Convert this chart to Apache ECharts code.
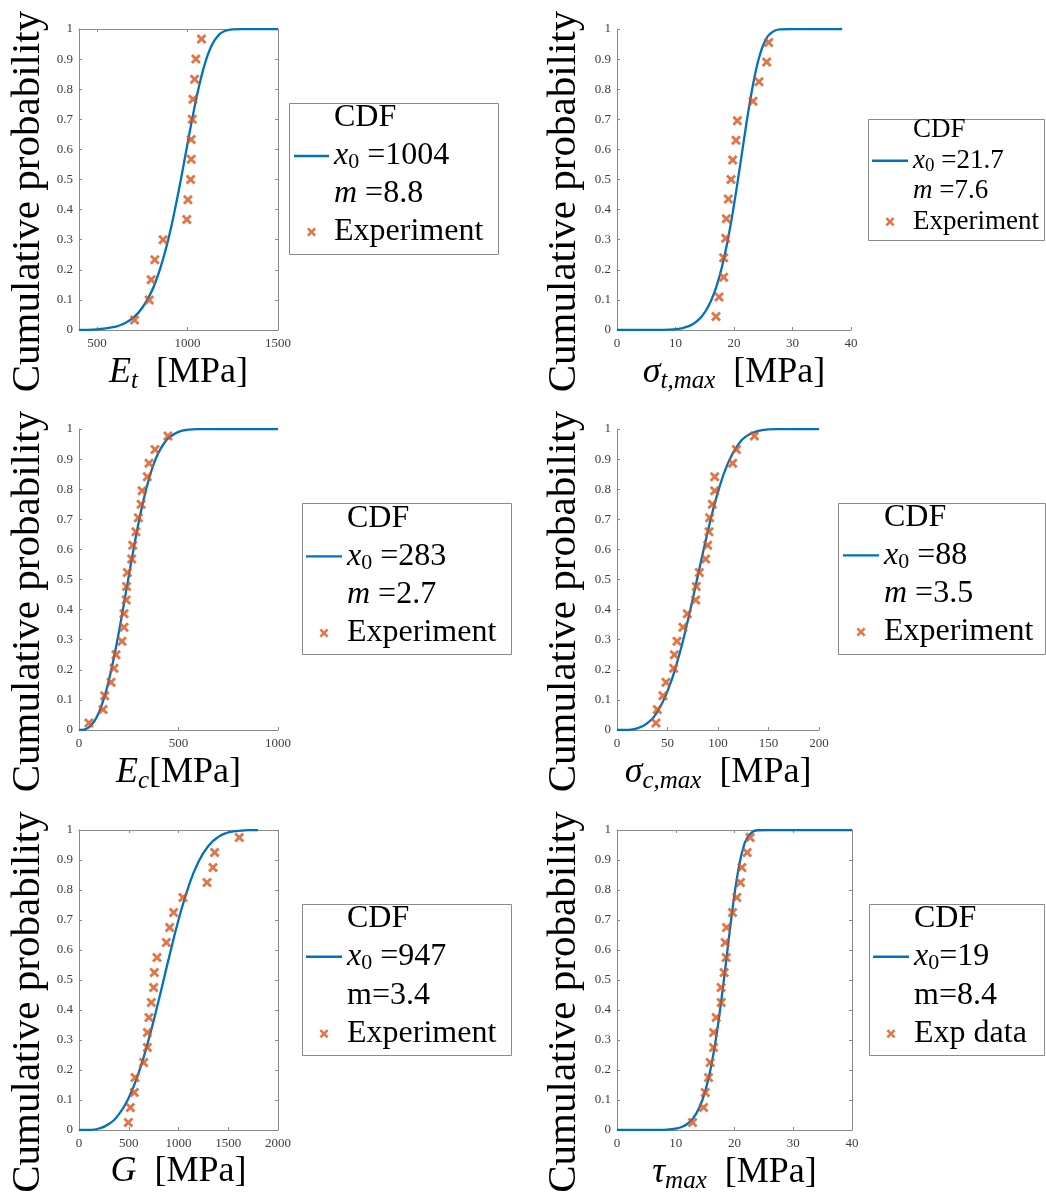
<!DOCTYPE html>
<html>
<head>
<meta charset="utf-8">
<script src="https://cdn.jsdelivr.net/npm/echarts@6/dist/echarts.min.js"></script>
<style>
  html, body { margin: 0; padding: 0; background: #fff; }
  #chart { width: 1046px; height: 1195px; }
</style>
</head>
<body>
<div id="chart"></div>
<script>
// ---------- data: measured values (exp) and fitted Weibull CDF curves (cdf) ----------
// Tensile modulus E_t [MPa]  (x0 = 1004, m = 8.8)
const etExpX = [707, 788, 799, 819, 865, 996, 1002, 1017, 1020, 1020, 1026, 1030, 1039, 1046, 1077];
const etExpY = [0.033, 0.1, 0.167, 0.233, 0.3, 0.367, 0.433, 0.5, 0.567, 0.633, 0.7, 0.767, 0.833, 0.9, 0.967];
const etCdfX = [400, 500, 600, 650, 700, 750, 800, 825, 850, 875, 900, 925, 950, 975, 1000, 1025, 1050, 1075, 1100, 1125, 1150, 1175, 1200, 1250, 1300, 1500];
const etCdfY = [0.0003, 0.0022, 0.0107, 0.0216, 0.041, 0.0739, 0.1267, 0.1627, 0.2063, 0.2578, 0.3175, 0.385, 0.4592, 0.5381, 0.6192, 0.6987, 0.773, 0.8387, 0.8928, 0.9343, 0.9632, 0.9815, 0.9918, 0.999, 0.9999, 1];

// Tensile strength sigma_t,max [MPa]  (x0 = 21.7, m = 7.6)
const stExpX = [16.92, 17.44, 18.23, 18.23, 18.58, 18.69, 19.03, 19.49, 19.77, 20.34, 20.57, 23.25, 24.27, 25.58, 25.93];
const stExpY = [0.045, 0.11, 0.175, 0.24, 0.305, 0.37, 0.435, 0.5, 0.565, 0.63, 0.695, 0.76, 0.825, 0.89, 0.955];
const stCdfX = [0, 6, 8, 10, 11, 12, 13, 14, 15, 16, 17, 18, 19, 20, 21, 22, 22.5, 23, 23.5, 24, 24.5, 25, 25.5, 26, 27, 28, 30, 38.5];
const stCdfY = [0, 0.0001, 0.0005, 0.0028, 0.0057, 0.011, 0.0202, 0.0351, 0.0587, 0.094, 0.1448, 0.2146, 0.3053, 0.416, 0.5413, 0.6704, 0.732, 0.7891, 0.84, 0.8837, 0.9192, 0.9468, 0.9669, 0.9808, 0.9948, 0.999, 1, 1];

// Compressive modulus E_c [MPa]  (x0 = 283, m = 2.7)
const ecExpX = [50, 121, 129, 161, 176, 186, 216, 226, 226, 237, 239, 243, 265, 270, 286, 298, 312, 317, 343, 352, 382, 447];
const ecExpY = [0.023, 0.068, 0.114, 0.159, 0.205, 0.25, 0.295, 0.341, 0.386, 0.432, 0.477, 0.523, 0.568, 0.614, 0.659, 0.705, 0.75, 0.795, 0.841, 0.886, 0.932, 0.977];
const ecCdfX = [0, 25, 50, 75, 100, 125, 150, 175, 200, 225, 250, 275, 300, 325, 350, 375, 400, 425, 450, 500, 550, 600, 700, 1000];
const ecCdfY = [0, 0.0014, 0.0092, 0.0273, 0.0585, 0.1042, 0.1649, 0.239, 0.3241, 0.4163, 0.5111, 0.6038, 0.6899, 0.7662, 0.8305, 0.8822, 0.9216, 0.9501, 0.9698, 0.9904, 0.9976, 0.9995, 1, 1];

// Compressive strength sigma_c,max [MPa]  (x0 = 88, m = 3.5)
const scExpX = [38.6, 39.9, 45.5, 48.5, 56.1, 56.8, 59.4, 65.3, 69.6, 77.9, 78.5, 81.5, 87.8, 89.8, 91.1, 91.7, 94.4, 96.7, 96.7, 114.5, 118.2, 136.0];
const scExpY = [0.023, 0.068, 0.114, 0.159, 0.205, 0.25, 0.295, 0.341, 0.386, 0.432, 0.477, 0.523, 0.568, 0.614, 0.659, 0.705, 0.75, 0.795, 0.841, 0.886, 0.932, 0.977];
const scCdfX = [0, 10, 20, 30, 40, 50, 60, 70, 80, 90, 100, 110, 120, 130, 140, 150, 160, 180, 200];
const scCdfY = [0, 0.0005, 0.0056, 0.0229, 0.0614, 0.1291, 0.2303, 0.3618, 0.5115, 0.6611, 0.7909, 0.8874, 0.9483, 0.9801, 0.9938, 0.9985, 0.9997, 1, 1];

// Shear modulus G [MPa]  (x0 = 947, m = 3.4)
const gExpX = [496, 516, 556, 563, 650, 687, 687, 703, 727, 750, 757, 784, 878, 911, 951, 1045, 1286, 1347, 1363, 1611];
const gExpY = [0.025, 0.075, 0.125, 0.175, 0.225, 0.275, 0.325, 0.375, 0.425, 0.475, 0.525, 0.575, 0.625, 0.675, 0.725, 0.775, 0.825, 0.875, 0.925, 0.975];
const gCdfX = [0, 100, 200, 300, 400, 500, 600, 700, 800, 900, 1000, 1100, 1200, 1300, 1400, 1500, 1600, 1700, 1800];
const gCdfY = [0, 0.0005, 0.005, 0.0199, 0.052, 0.1077, 0.191, 0.3009, 0.4308, 0.5687, 0.7, 0.8107, 0.8932, 0.9469, 0.9771, 0.9916, 0.9974, 0.9993, 0.9999];

// Shear strength tau_max [MPa]  (x0 = 19, m = 8.4)
const tauExpX = [12.86, 14.73, 15.01, 15.58, 15.86, 16.43, 16.43, 16.88, 17.73, 17.73, 18.24, 18.58, 18.41, 18.64, 19.66, 20.40, 21.02, 21.25, 22.15, 22.66];
const tauExpY = [0.025, 0.075, 0.125, 0.175, 0.225, 0.275, 0.325, 0.375, 0.425, 0.475, 0.525, 0.575, 0.625, 0.675, 0.725, 0.775, 0.825, 0.875, 0.925, 0.975];
const tauCdfX = [0, 6, 8, 10, 11, 12, 13, 14, 15, 16, 17, 17.5, 18, 18.5, 19, 19.5, 20, 20.5, 21, 21.5, 22, 23, 24, 26, 40];
const tauCdfY = [0, 0.0001, 0.0007, 0.0045, 0.0101, 0.0209, 0.0404, 0.0741, 0.1284, 0.2104, 0.3249, 0.3943, 0.4702, 0.5506, 0.6321, 0.7118, 0.7854, 0.8494, 0.9016, 0.9408, 0.9675, 0.9931, 0.9992, 1, 1];

// x-axis tick values
const etTicks = [500, 1000, 1500];
const stTicks = [0, 10, 20, 30, 40];
const ecTicks = [0, 500, 1000];
const scTicks = [0, 50, 100, 150, 200];
const gTicks = [0, 500, 1000, 1500, 2000];
const tauTicks = [0, 10, 20, 30, 40];

// legend texts: [x0 label, m label, m italic?, marker label]
const etLegend = [' =1004', ' =8.8', true, 'Experiment'];
const stLegend = [' =21.7', ' =7.6', true, 'Experiment'];
const ecLegend = [' =283', ' =2.7', true, 'Experiment'];
const scLegend = [' =88', ' =3.5', true, 'Experiment'];
const gLegend = [' =947', '=3.4', false, 'Experiment'];
const tauLegend = ['=19', '=8.4', false, 'Exp data'];

// ---------- styling ----------
const FONT = 'Liberation Serif';
const BLUE = '#0072BD';
const ORANGE = '#D95319';
const AXIS = '#8a8a8a';
const TICKTXT = '#3c3c3c';
const X_ICON = 'path://M0,2L2,0L5,3L8,0L10,2L7,5L10,8L8,10L5,7L2,10L0,8L3,5Z';
const LINE_ICON = 'path://M0,0H40V2.6H0Z';

const panels = [
  { rect: [79, 29, 199, 301], xr: [400, 1500], ticks: etTicks, box: true,
    cx: etCdfX, cy: etCdfY, ex: etExpX, ey: etExpY,
    xName: '{i|E}{s|t}{n|  [MPa]}', yGap: 30,
    leg: etLegend, legPos: [294, 99], legIcon: 35, legFont: 32, legLine: 38, legBox: [289, 103, 209, 151] },
  { rect: [617, 29, 234, 301], xr: [0, 40], ticks: stTicks, box: false,
    cx: stCdfX, cy: stCdfY, ex: stExpX, ey: stExpY,
    xName: '{i|σ}{s|t,max}{n|  [MPa]}', yGap: 32,
    leg: stLegend, legPos: [872, 115], legIcon: 36, legFont: 27, legLine: 30.5, legBox: [868, 119, 176, 121] },
  { rect: [79, 429, 199, 301], xr: [0, 1000], ticks: ecTicks, box: false,
    cx: ecCdfX, cy: ecCdfY, ex: ecExpX, ey: ecExpY,
    xName: '{i|E}{s|c}{n|[MPa]}', yGap: 30,
    leg: ecLegend, legPos: [306, 499], legIcon: 36, legFont: 32, legLine: 38.3, legBox: [302, 503, 209, 151] },
  { rect: [617, 429, 202, 301], xr: [0, 200], ticks: scTicks, box: false,
    cx: scCdfX, cy: scCdfY, ex: scExpX, ey: scExpY,
    xName: '{i|σ}{s|c,max}{n|  [MPa]}', yGap: 32,
    leg: scLegend, legPos: [843, 498], legIcon: 36, legFont: 32, legLine: 38.3, legBox: [838, 503, 207, 151] },
  { rect: [79, 830, 199, 300], xr: [0, 2000], ticks: gTicks, box: true,
    cx: gCdfX, cy: gCdfY, ex: gExpX, ey: gExpY,
    xName: '{i|G}{n|  [MPa]}', yGap: 30,
    leg: gLegend, legPos: [306, 899], legIcon: 36, legFont: 32, legLine: 38.5, legBox: [302, 904, 209, 151] },
  { rect: [617, 830, 235, 300], xr: [0, 40], ticks: tauTicks, box: true,
    cx: tauCdfX, cy: tauCdfY, ex: tauExpX, ey: tauExpY,
    xName: '{i|τ}{s|max}{n|  [MPa]}', yGap: 32,
    leg: tauLegend, legPos: [873, 899], legIcon: 36, legFont: 32, legLine: 38.5, legBox: [869, 904, 175, 151] }
];

const zip = (xs, ys) => xs.map((x, i) => [x, ys[i]]);
const plainNumber = v => String(v);

const xNameRich = {
  i: { fontFamily: FONT, fontStyle: 'italic', fontSize: 36, lineHeight: 40, color: '#000' },
  n: { fontFamily: FONT, fontSize: 36, lineHeight: 40, color: '#000' },
  s: { fontFamily: FONT, fontStyle: 'italic', fontSize: 25, lineHeight: 25, padding: [18, 0, 0, 0], color: '#000' }
};

const option = {
  animation: false,
  backgroundColor: '#fff',
  grid: [], xAxis: [], yAxis: [], series: [], legend: [], graphic: []
};

panels.forEach((p, k) => {
  option.grid.push({
    left: p.rect[0], top: p.rect[1], width: p.rect[2], height: p.rect[3],
    outerBoundsMode: 'none', containLabel: false
  });

  const baseAxisLine = { show: true, onZero: false, lineStyle: { color: AXIS, width: 1 } };
  const xi = option.xAxis.length;
  option.xAxis.push({
    type: 'value', gridIndex: k, position: 'bottom', min: p.xr[0], max: p.xr[1],
    axisLine: baseAxisLine,
    axisTick: { show: true, inside: true, length: 3, customValues: p.ticks, lineStyle: { color: AXIS } },
    axisLabel: { customValues: p.ticks, formatter: plainNumber, margin: 7, fontFamily: FONT, fontSize: 13, color: TICKTXT },
    splitLine: { show: false },
    name: p.xName, nameLocation: 'middle', nameGap: 22,
    nameTextStyle: { lineHeight: 40, rich: xNameRich }
  });
  const yi = option.yAxis.length;
  option.yAxis.push({
    type: 'value', gridIndex: k, position: 'left', min: 0, max: 1, interval: 0.1,
    axisLine: baseAxisLine,
    axisTick: { show: true, inside: true, length: 3, lineStyle: { color: AXIS } },
    axisLabel: { margin: 6, fontFamily: FONT, fontSize: 13, color: TICKTXT },
    splitLine: { show: false },
    name: 'Cumulative probability', nameLocation: 'middle', nameRotate: 90, nameGap: p.yGap,
    nameTextStyle: { fontFamily: FONT, fontSize: 41, lineHeight: 41, color: '#000', padding: [0, 44, 0, 0] }
  });
  if (p.box) {
    option.xAxis.push({
      type: 'value', gridIndex: k, position: 'top', min: p.xr[0], max: p.xr[1],
      axisLine: baseAxisLine,
      axisTick: { show: true, inside: true, length: 3, customValues: p.ticks, lineStyle: { color: AXIS } },
      axisLabel: { show: false }, splitLine: { show: false }
    });
    option.yAxis.push({
      type: 'value', gridIndex: k, position: 'right', min: 0, max: 1, interval: 0.1,
      axisLine: baseAxisLine,
      axisTick: { show: true, inside: true, length: 3, lineStyle: { color: AXIS } },
      axisLabel: { show: false }, splitLine: { show: false }
    });
  }

  const cdfName = 'cdf' + k;
  const expName = 'exp' + k;
  option.series.push({
    type: 'line', name: cdfName, xAxisIndex: xi, yAxisIndex: yi,
    data: zip(p.cx, p.cy), smooth: 0.5, symbol: 'none',
    lineStyle: { color: BLUE, width: 2.3 }, itemStyle: { color: BLUE }, z: 2
  });
  option.series.push({
    type: 'scatter', name: expName, xAxisIndex: xi, yAxisIndex: yi,
    data: zip(p.ex, p.ey), symbol: X_ICON, symbolSize: 10,
    itemStyle: { color: ORANGE, borderWidth: 0 }, z: 3
  });

  const F = p.legFont, L = p.legLine;
  const mTok = p.leg[2] ? 'i' : 'n';
  const cdfLabel = '{n|CDF}\n{i|x}{s|0}{n|' + p.leg[0] + '}\n{' + mTok + '|m}{n|' + p.leg[1] + '}';
  option.legend.push({
    orient: 'vertical', left: p.legPos[0], top: p.legPos[1], padding: 0, itemGap: 0,
    itemWidth: p.legIcon, itemHeight: 9, selectedMode: false,
    itemStyle: { borderWidth: 0 },
    data: [{ name: cdfName, icon: LINE_ICON }, { name: expName, icon: X_ICON }],
    formatter: name => name === cdfName ? cdfLabel : '{n|' + p.leg[3] + '}',
    textStyle: {
      fontFamily: FONT, fontSize: F, lineHeight: L, color: '#000',
      rich: {
        n: { fontFamily: FONT, fontSize: F, lineHeight: L, color: '#000' },
        i: { fontFamily: FONT, fontStyle: 'italic', fontSize: F, lineHeight: L, color: '#000' },
        s: { fontFamily: FONT, fontSize: Math.round(F * 0.7), lineHeight: Math.round(F * 0.7),
             padding: [Math.round(F * 0.42), 0, 0, 0], color: '#000' }
      }
    }
  });
  option.graphic.push({
    type: 'rect', silent: true, z: 0,
    shape: { x: p.legBox[0] + 0.5, y: p.legBox[1] + 0.5, width: p.legBox[2], height: p.legBox[3] },
    style: { fill: 'transparent', stroke: AXIS, lineWidth: 1 }
  });
});

const chart = echarts.init(document.getElementById('chart'), null, { renderer: 'canvas' });
chart.setOption(option);
</script>
</body>
</html>
